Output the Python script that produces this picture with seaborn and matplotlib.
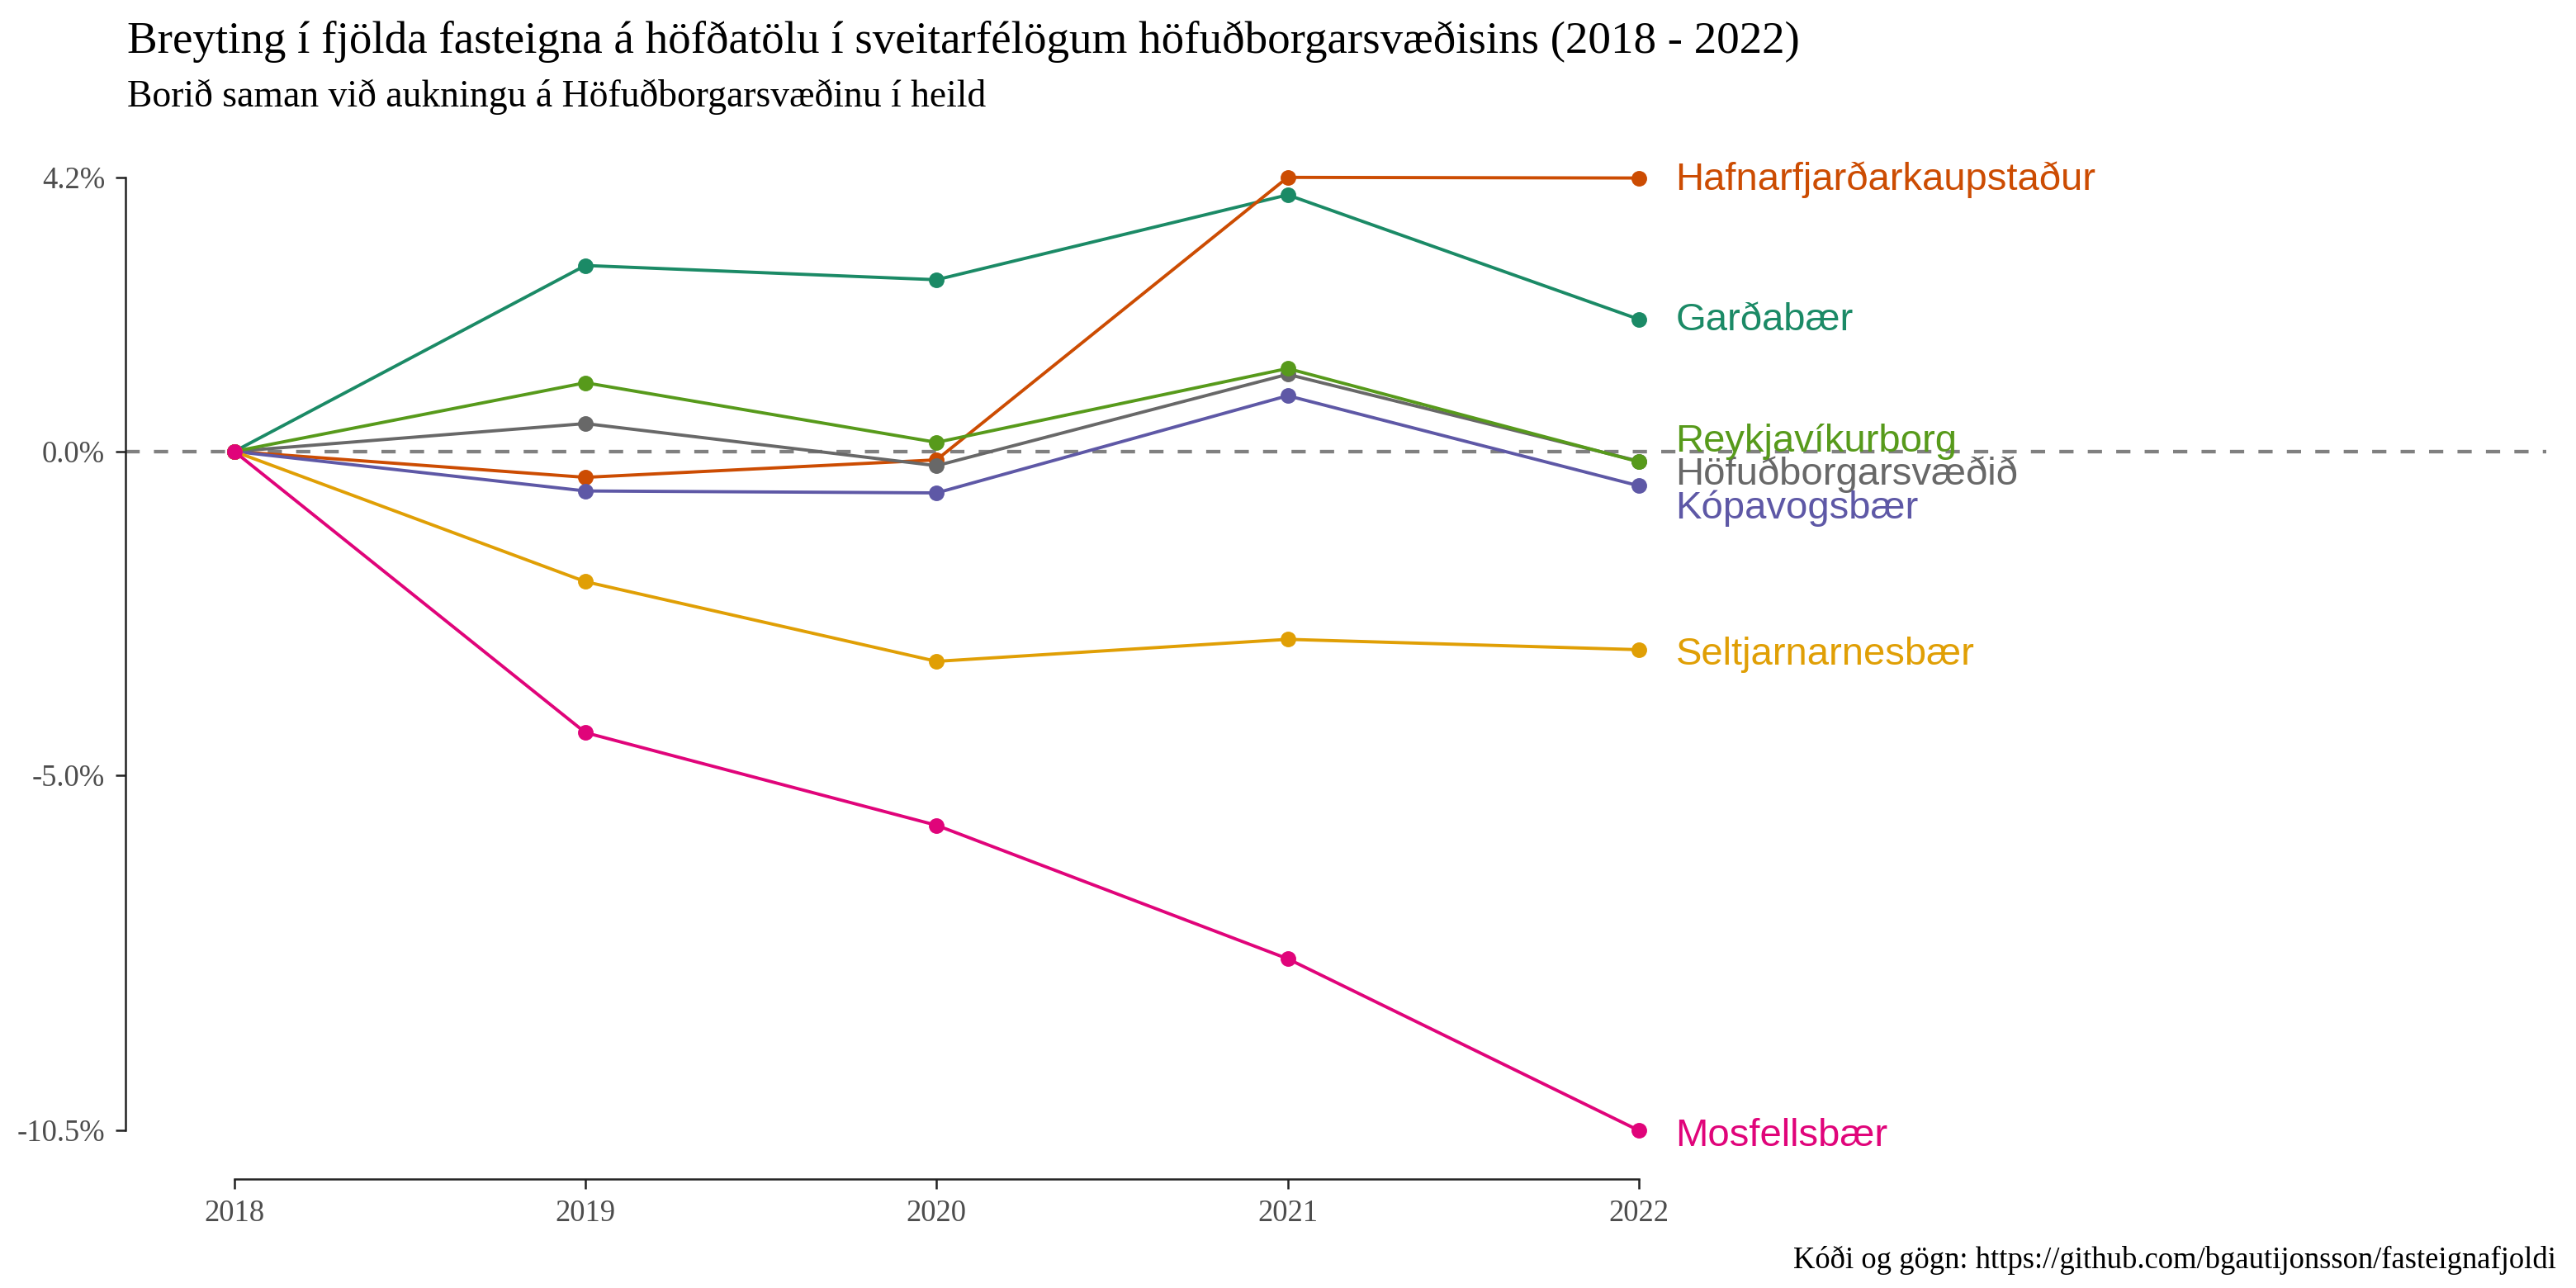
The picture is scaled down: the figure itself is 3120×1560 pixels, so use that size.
import numpy as np
import pandas as pd
import matplotlib
matplotlib.use("Agg")
import matplotlib.pyplot as plt
import seaborn as sns

# data (percent, relative to capital area)
years = [2018, 2019, 2020, 2021, 2022]
gardabaer = [0.0, 2.87, 2.65, 3.96, 2.04]
hafnarfjordur = [0.0, -0.40, -0.13, 4.23, 4.22]
hofudborgarsvaedid = [0.0, 0.43, -0.22, 1.19, -0.15]
kopavogur = [0.0, -0.61, -0.64, 0.86, -0.53]
reykjavik = [0.0, 1.06, 0.14, 1.28, -0.16]
seltjarnarnes = [0.0, -2.01, -3.24, -2.90, -3.06]
mosfellsbaer = [0.0, -4.34, -5.77, -7.83, -10.48]

names = ["Garðabær", "Hafnarfjarðarkaupstaður", "Höfuðborgarsvæðið",
         "Kópavogsbær", "Reykjavíkurborg", "Seltjarnarnesbær", "Mosfellsbær"]
series = [gardabaer, hafnarfjordur, hofudborgarsvaedid, kopavogur,
          reykjavik, seltjarnarnes, mosfellsbaer]
colors = ["#1b8a66", "#cc4c02", "#686868", "#5e58a6",
          "#579a1b", "#e09f05", "#e0047a"]

title = "Breyting í fjölda fasteigna á höfðatölu í sveitarfélögum höfuðborgarsvæðisins (2018 - 2022)"
subtitle = "Borið saman við aukningu á Höfuðborgarsvæðinu í heild"
caption = "Kóði og gögn: https://github.com/bgautijonsson/fasteignafjoldi"

df = pd.DataFrame({
    "year": np.tile(years, len(names)),
    "value": np.concatenate(series),
    "region": np.repeat(names, len(years)),
})
palette = dict(zip(names, colors))

# label nudges so the end labels don't overlap (data units)
label_nudge = {"Reykjavíkurborg": 0.31, "Höfuðborgarsvæðið": -0.21,
               "Kópavogsbær": -0.35, "Seltjarnarnesbær": -0.08,
               "Mosfellsbær": -0.09, "Hafnarfjarðarkaupstaður": -0.02,
               "Garðabær": -0.02}

sns.set_theme(style="ticks")
plt.rcParams["font.family"] = ["Liberation Serif", "DejaVu Serif"]

fig = plt.figure(figsize=(15.6, 7.8), dpi=200)
ax = fig.add_axes([0.0487, 0.0846, 0.9397, 0.8119])

ax.axhline(0, color="#808080", lw=1.55, dashes=(4, 4), zorder=1)

sns.lineplot(data=df, x="year", y="value", hue="region", hue_order=names,
             palette=palette, marker="o", markersize=6.8, markeredgewidth=0,
             linewidth=1.4, legend=False, ax=ax, zorder=3)

for name, vals in zip(names, series):
    ax.text(years[-1] + 0.105, vals[-1] + label_nudge[name], name,
            color=palette[name], fontsize=17, va="center", ha="left",
            family=["Liberation Sans", "DejaVu Sans"])

ymin = min(min(s) for s in series)
ymax = max(max(s) for s in series)
ax.set_xlim(2017.690, 2024.584)
ax.set_ylim(-11.23, 4.91)

yticks = [ymin, -5.0, 0.0, ymax]
ax.set_yticks(yticks)
ax.set_yticklabels([f"{v:.1f}%" for v in yticks])
ax.set_xticks(years)
ax.set_xticklabels([str(y) for y in years])
ax.tick_params(axis="both", length=4.4, width=0.9, color="#222222",
               labelsize=13.2, labelcolor="#4d4d4d", pad=4.5)

for side in ["top", "right"]:
    ax.spines[side].set_visible(False)
ax.spines["left"].set_bounds(ymin, ymax)
ax.spines["bottom"].set_bounds(years[0], years[-1])
for side in ["left", "bottom"]:
    ax.spines[side].set_color("#222222")
    ax.spines[side].set_linewidth(0.9)
ax.set_xlabel("")
ax.set_ylabel("")
ax.grid(False)

fig.text(0.0494, 0.959, title, fontsize=19.8, ha="left", va="baseline", color="black")
fig.text(0.0494, 0.917, subtitle, fontsize=16.45, ha="left", va="baseline", color="black")
fig.text(0.9923, 0.0154, caption, fontsize=13.2, ha="right", va="baseline", color="black")

fig.savefig("out.png", dpi=200, facecolor="white")
